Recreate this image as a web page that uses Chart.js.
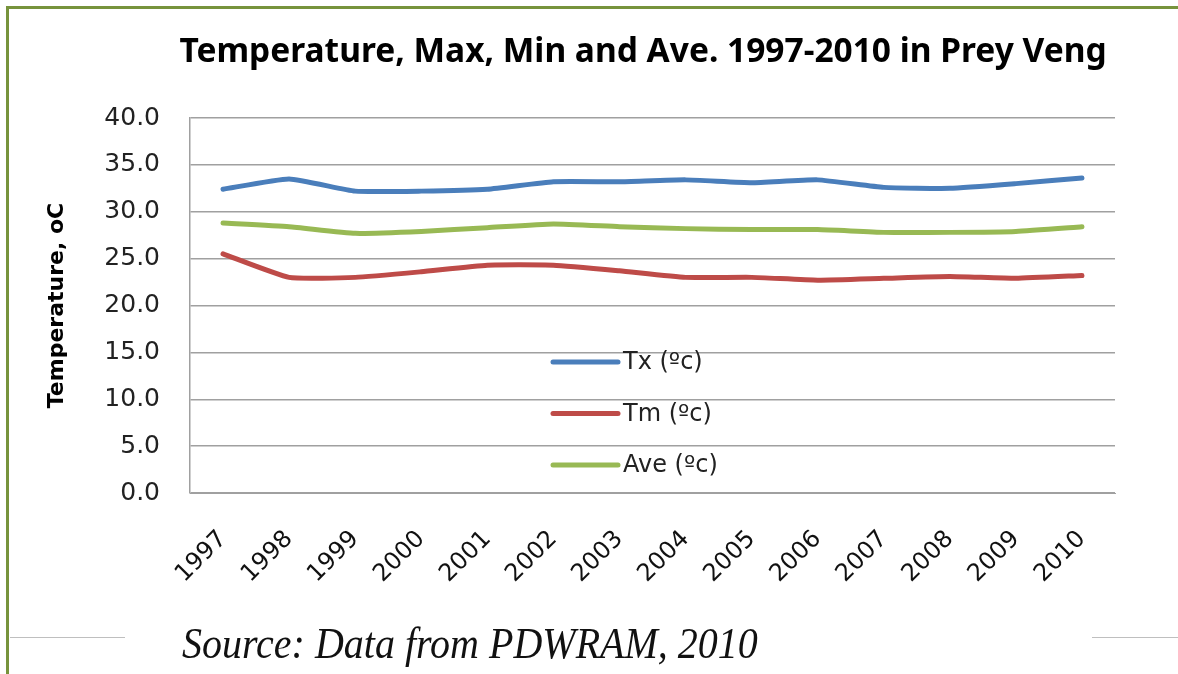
<!DOCTYPE html>
<html>
<head>
<meta charset="utf-8">
<script src="https://cdn.jsdelivr.net/npm/chart.js@4/dist/chart.umd.min.js"></script>
<style>
  html, body { margin: 0; padding: 0; background: #fff; }
  #wrap { position: relative; width: 1178px; height: 674px; overflow: hidden; }
  #chart { position: absolute; left: 0; top: 0; }
  .frame-top { position: absolute; left: 6px; top: 6px; width: 1172px; height: 3px; background: #77933c; }
  .frame-left { position: absolute; left: 6px; top: 6px; width: 3px; height: 668px; background: #77933c; }
  .rule { position: absolute; top: 637px; height: 1px; background: #bfbfbf; }
  #source {
    position: absolute; left: 182px; top: 617px;
    font-family: "Liberation Serif", serif; font-style: italic; font-size: 40px;
    color: #111; white-space: nowrap;
    transform: scaleY(1.12); transform-origin: left top;
  }
</style>
</head>
<body>
<div id="wrap">
  <canvas id="chart" width="1178" height="674"></canvas>
  <div class="frame-top"></div>
  <div class="frame-left"></div>
  <div class="rule" style="left:10px;width:115px"></div>
  <div class="rule" style="left:1092px;width:86px"></div>
  <div id="source">Source: Data from PDWRAM, 2010</div>
</div>
<script>
// --- data ---
const years = ['1997', '1998', '1999', '2000', '2001', '2002', '2003',
               '2004', '2005', '2006', '2007', '2008', '2009', '2010'];
const tMax = [32.4, 33.5, 32.2, 32.2, 32.4, 33.2, 33.2, 33.4, 33.1, 33.4, 32.6, 32.5, 33.0, 33.6];
const tMin = [25.5, 23.0, 23.0, 23.6, 24.3, 24.3, 23.7, 23.0, 23.0, 22.7, 22.9, 23.1, 22.9, 23.2];
const tAve = [28.8, 28.4, 27.7, 27.9, 28.3, 28.7, 28.4, 28.2, 28.1, 28.1, 27.8, 27.8, 27.9, 28.4];
const seriesNames = ['Tx (\u00bac)', 'Tm (\u00bac)', 'Ave (\u00bac)'];
const seriesColors = ['#4a7ebb', '#be4b48', '#98b954'];

const chartTitle = 'Temperature, Max, Min and Ave. 1997-2010 in Prey Veng';
const TITLE_FONT = '"Noto Sans", "Open Sans", sans-serif';
const FONT = '"DejaVu Sans", sans-serif';

// title drawn at fixed place above the plot
const titlePlugin = {
    id: 'fixedTitle',
    afterDraw(chart) {
        const ctx = chart.ctx;
        ctx.save();
        ctx.font = 'bold 33.5px ' + TITLE_FONT;
        ctx.fillStyle = '#000';
        ctx.textAlign = 'center';
        ctx.textBaseline = 'middle';
        ctx.fillText(chartTitle, 643, 52);
        ctx.restore();
    }
};

// legend sits inside the plot area, one entry per row
const innerLegend = {
    id: 'innerLegend',
    afterDatasetsDraw(chart) {
        const ctx = chart.ctx;
        ctx.save();
        ctx.font = '24px ' + FONT;
        ctx.textBaseline = 'middle';
        chart.data.datasets.forEach((ds, i) => {
            const y = 362 + i * 51.5;
            ctx.strokeStyle = ds.borderColor;
            ctx.lineWidth = 5;
            ctx.lineCap = 'round';
            ctx.beginPath();
            ctx.moveTo(553, y);
            ctx.lineTo(618, y);
            ctx.stroke();
            ctx.fillStyle = '#222';
            ctx.fillText(ds.label, 623, y + 1);
        });
        ctx.restore();
    }
};

const ctx = document.getElementById('chart').getContext('2d');
const chart = new Chart(ctx, {
    type: 'line',
    data: {
        labels: years,
        datasets: [
            { label: seriesNames[0], data: tMax, borderColor: seriesColors[0] },
            { label: seriesNames[1], data: tMin, borderColor: seriesColors[1] },
            { label: seriesNames[2], data: tAve, borderColor: seriesColors[2] }
        ]
    },
    options: {
        responsive: false,
        animation: false,
        layout: { padding: { top: 118, right: 63, left: 44, bottom: 0 } },
        elements: {
            line: { borderWidth: 5, tension: 0.15, borderCapStyle: 'round', borderJoinStyle: 'round', fill: false },
            point: { radius: 0, hoverRadius: 0 }
        },
        plugins: {
            legend: { display: false },
            title: { display: false },
            tooltip: { enabled: false }
        },
        scales: {
            x: {
                offset: true,
                grid: { display: false, drawTicks: false, offset: true },
                border: { color: '#a0a0a0', width: 1 },
                ticks: {
                    color: '#111',
                    font: { family: FONT, size: 24 },
                    minRotation: 45, maxRotation: 45,
                    padding: 32
                },
                afterFit(scale) { scale.height = 181; }
            },
            y: {
                min: 0, max: 40,
                ticks: {
                    stepSize: 5,
                    color: '#222',
                    font: { family: FONT, size: 25 },
                    padding: 30,
                    callback: v => v.toFixed(1)
                },
                grid: { color: '#a0a0a0', lineWidth: 1.5, drawTicks: false },
                border: { color: '#a0a0a0', width: 1.5 },
                title: {
                    display: true,
                    text: 'Temperature, oC',
                    color: '#000',
                    font: { family: FONT, size: 22, weight: 'bold' },
                    padding: { top: 0, bottom: 0 }
                },
                afterFit(scale) { scale.width = 146; }
            }
        }
    },
    plugins: [titlePlugin, innerLegend]
});
</script>
</body>
</html>
